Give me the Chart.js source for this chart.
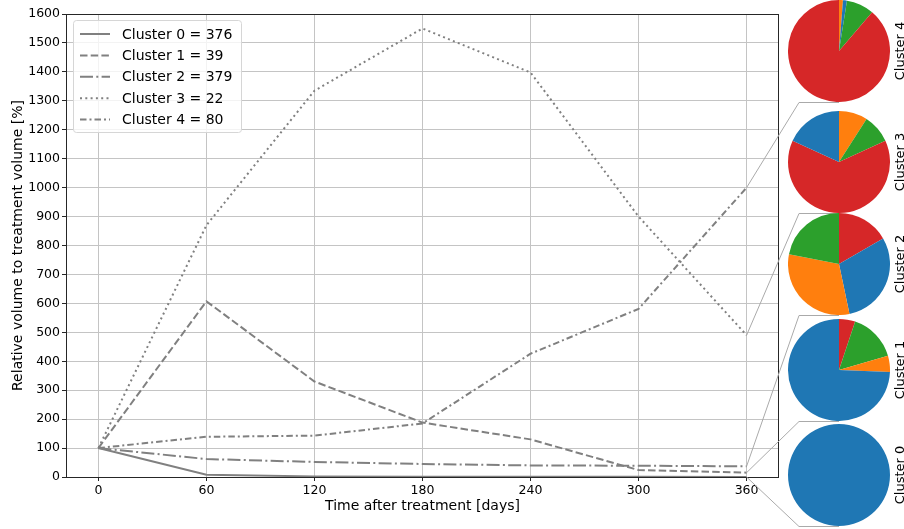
<!DOCTYPE html>
<html>
<head>
<meta charset="utf-8">
<script src="https://cdn.jsdelivr.net/npm/chart.js@4.4.1/dist/chart.umd.min.js"></script>
<style>
  html, body { margin: 0; padding: 0; background: #fff; overflow: hidden; }
  #wrap { position: relative; width: 904px; height: 529px; }
  #main { position: absolute; left: 0; top: 0; }
  .pie { position: absolute; }
  .pie-label {
    position: absolute;
    font: 13px "DejaVu Sans", sans-serif;
    color: #000;
    white-space: nowrap;
    transform: translate(-50%, -50%) rotate(-90deg);
  }
</style>
</head>
<body>
<div id="wrap">
  <canvas id="main" width="904" height="529"></canvas>
</div>
<script>
const days = [0, 60, 120, 180, 240, 300, 360];
const xTicks = [0, 60, 120, 180, 240, 300, 360];
const clusterNames = ['Cluster 0', 'Cluster 1', 'Cluster 2', 'Cluster 3', 'Cluster 4'];
const clusterSizes = [376, 39, 379, 22, 80];

// relative volume [%] per cluster
const cluster0 = [100, 8, 2, 1, 1, 1, 0];
const cluster1 = [100, 607, 330, 188, 130, 24, 15];
const cluster2 = [100, 62, 52, 45, 40, 39, 37];
const cluster3 = [100, 870, 1335, 1550, 1398, 900, 490];
const cluster4 = [100, 139, 143, 185, 426, 581, 1000];
const volumeSeries = [cluster0, cluster1, cluster2, cluster3, cluster4];

// pie composition, slices clockwise from 12 o'clock (colour index + count)
const groupColors = ['#1f77b4', '#ff7f0e', '#2ca02c', '#d62728'];
const pieGroups = [[0], [3, 2, 1, 0], [3, 0, 1, 2], [1, 2, 3, 0], [1, 0, 2, 3]];
const pieCounts = [[376], [2, 6, 2, 29], [63, 114, 119, 83], [2, 2, 14, 4], [1, 1, 7, 71]];

const FONT = '"DejaVu Sans", sans-serif';
const dashes = [[], [7.5, 3.2], [13, 3.3, 2, 3.3], [2, 3.3], [6.5, 3, 2, 3]];

// pie layout (cluster 0 at the bottom)
const PIE_SIZE = 102;
const PIE_LEFT = 788;
const pieTops = [424, 319, 213, 111, 0];

const framePlugin = {
  id: 'frame',
  afterDraw(chart) {
    const { ctx, chartArea: a, scales: { x, y } } = chart;
    ctx.save();

    // axes box
    ctx.setLineDash([]);
    ctx.strokeStyle = '#262626';
    ctx.lineWidth = 1;
    ctx.strokeRect(a.left + 0.5, a.top + 0.5, a.right - a.left - 1, a.bottom - a.top);

    // legend
    const lx = a.left + 7, ly = a.top + 6, lw = 168, lh = 112;
    ctx.beginPath();
    ctx.roundRect(lx + 0.5, ly + 0.5, lw, lh, 3);
    ctx.fillStyle = 'rgba(255,255,255,0.8)';
    ctx.fill();
    ctx.strokeStyle = '#d6d6d6';
    ctx.stroke();
    ctx.font = '14px ' + FONT;
    ctx.textBaseline = 'middle';
    ctx.fillStyle = '#000';
    chart.data.datasets.forEach((ds, i) => {
      const ry = ly + 14 + i * 21.4;
      ctx.beginPath();
      ctx.setLineDash(ds.borderDash);
      ctx.strokeStyle = ds.borderColor;
      ctx.lineWidth = ds.borderWidth;
      ctx.moveTo(lx + 7, ry);
      ctx.lineTo(lx + 37, ry);
      ctx.stroke();
      ctx.fillText(ds.label, lx + 49, ry + 1);
    });

    // connectors from day-360 values to the pies
    ctx.setLineDash([]);
    ctx.strokeStyle = '#aaaaaa';
    ctx.lineWidth = 1;
    volumeSeries.forEach((vals, i) => {
      const px = x.getPixelForValue(days[days.length - 1]);
      const py = y.getPixelForValue(vals[vals.length - 1]);
      const bottom = pieTops[i] + PIE_SIZE + 0.5;
      ctx.beginPath();
      ctx.moveTo(px, py);
      ctx.lineTo(PIE_LEFT + 11, bottom);
      ctx.lineTo(PIE_LEFT + PIE_SIZE / 2, bottom);
      ctx.stroke();
    });
    ctx.restore();
  }
};

new Chart(document.getElementById('main'), {
  type: 'line',
  data: {
    datasets: volumeSeries.map((vals, i) => ({
      label: `${clusterNames[i]} = ${clusterSizes[i]}`,
      data: days.map((d, j) => ({ x: d, y: vals[j] })),
      borderColor: '#808080',
      borderWidth: 2,
      borderDash: dashes[i],
      pointRadius: 0,
      tension: 0,
      fill: false,
      order: 4 - i
    }))
  },
  options: {
    responsive: false,
    animation: false,
    events: [],
    devicePixelRatio: 1,
    layout: { padding: { top: 14, right: 125, left: 0, bottom: 0 } },
    plugins: { legend: { display: false }, tooltip: { enabled: false } },
    scales: {
      x: {
        type: 'linear',
        min: -18,
        max: 378,
        afterBuildTicks: s => { s.ticks = xTicks.map(v => ({ value: v })); },
        afterFit: s => { s.height = 52; },
        grid: { color: '#c4c4c4', lineWidth: 1, tickLength: 4, tickColor: '#262626' },
        border: { display: false },
        ticks: { color: '#000', font: { family: FONT, size: 12.5 }, padding: 2, maxRotation: 0, autoSkip: false, callback: v => String(v) },
        title: { display: true, text: 'Time after treatment [days]', color: '#000', font: { family: FONT, size: 14 }, padding: { top: 0, bottom: 14 } }
      },
      y: {
        min: 0,
        max: 1600,
        afterFit: s => { s.width = 66; },
        grid: { color: '#c4c4c4', lineWidth: 1, tickLength: 4, tickColor: '#262626' },
        border: { display: false },
        ticks: { stepSize: 100, color: '#000', font: { family: FONT, size: 12.5 }, padding: 2, autoSkip: false, callback: v => String(v) },
        title: { display: true, text: 'Relative volume to treatment volume [%]', color: '#000', font: { family: FONT, size: 14 }, padding: { top: 10, bottom: 0 } }
      }
    }
  },
  plugins: [framePlugin]
});

// cluster composition pies
const wrap = document.getElementById('wrap');
pieCounts.forEach((counts, i) => {
  const c = document.createElement('canvas');
  c.width = PIE_SIZE;
  c.height = PIE_SIZE;
  c.className = 'pie';
  c.style.left = PIE_LEFT + 'px';
  c.style.top = pieTops[i] + 'px';
  wrap.appendChild(c);
  new Chart(c, {
    type: 'pie',
    data: {
      datasets: [{
        data: counts,
        backgroundColor: pieGroups[i].map(g => groupColors[g]),
        borderWidth: 0
      }]
    },
    options: {
      responsive: false,
      animation: false,
      events: [],
      devicePixelRatio: 1,
      layout: { padding: 0 },
      plugins: { legend: { display: false }, tooltip: { enabled: false } }
    }
  });
  const lab = document.createElement('div');
  lab.className = 'pie-label';
  lab.textContent = clusterNames[i];
  lab.style.left = '899px';
  lab.style.top = (pieTops[i] + PIE_SIZE / 2) + 'px';
  wrap.appendChild(lab);
});
</script>
</body>
</html>
